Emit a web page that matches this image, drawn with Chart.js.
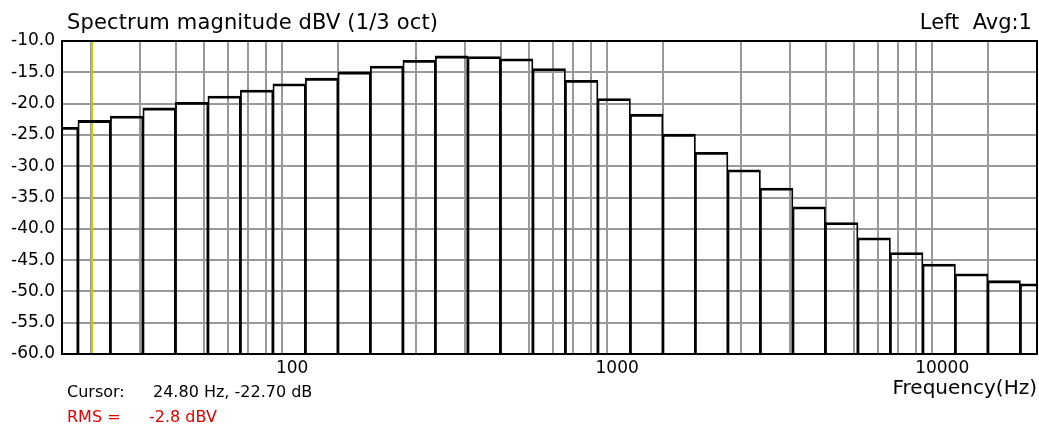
<!DOCTYPE html>
<html>
<head>
<meta charset="utf-8">
<title>Spectrum magnitude</title>
<script src="https://cdn.jsdelivr.net/npm/chart.js@4.4.1/dist/chart.umd.min.js"></script>
<style>
    html, body { margin: 0; padding: 0; background: #fff; }
    #wrap { position: relative; width: 1039px; height: 432px; font-family: 'DejaVu Sans', sans-serif; color: #000; }
    #wrap canvas { position: absolute; left: 0; top: 0; }
    .lbl { position: absolute; white-space: pre; }
    #title { left: 67px; top: 10px; font-size: 21px; line-height: 24px; letter-spacing: 0.15px; }
    #channel { right: 7px; top: 10px; font-size: 21px; line-height: 24px; }
    #cursor, #rms { left: 67px; font-size: 16px; line-height: 20px; }
    #cursor { top: 382px; }
    #rms { top: 407px; color: #e00000; }
    .val { position: absolute; left: 86px; }
</style>
</head>
<body>
<div id="wrap">
    <canvas id="spectrum" width="1039" height="432"></canvas>
    <div class="lbl" id="title">Spectrum magnitude dBV (1/3 oct)</div>
    <div class="lbl" id="channel">Left  Avg:1</div>
    <div class="lbl" id="cursor">Cursor:<span class="val">24.80 Hz, -22.70 dB</span></div>
    <div class="lbl" id="rms">RMS =<span class="val" style="left:82px">-2.8 dBV</span></div>
</div>
<script>
// 1/3 octave band centres (Hz) and the level read for each band (dBV)
const bandCenters = [19.95, 25.12, 31.62, 39.81, 50.12, 63.10, 79.43, 100, 125.9, 158.5,
    199.5, 251.2, 316.2, 398.1, 501.2, 631.0, 794.3, 1000, 1259, 1585,
    1995, 2512, 3162, 3981, 5012, 6310, 7943, 10000, 12589, 15849, 19953];
const bandLevels = [-23.8, -22.7, -22.0, -20.7, -19.8, -18.8, -17.85, -16.85, -15.95, -14.95,
    -14.0, -13.1, -12.4, -12.5, -12.85, -14.4, -16.3, -19.2, -21.7, -24.9,
    -27.8, -30.6, -33.5, -36.5, -39.0, -41.45, -43.8, -45.65, -47.2, -48.3, -48.8];

const gridFreqs = [20, 30, 40, 50, 60, 70, 80, 90, 100, 200, 300, 400, 500, 600, 700, 800, 900,
    1000, 2000, 3000, 4000, 5000, 6000, 7000, 8000, 9000, 10000, 20000];
const xTickLabels = ['100', '1000', '10000'];
const freqMin = 20;
const freqMax = 20000;
const dbMin = -60;
const dbMax = -10;
const dbStep = 5;
const cursorHz = 24.8;

const gridColor = '#999999';

const frameAndCursor = {
    id: 'frameAndCursor',
    beforeDatasetsDraw(chart) {
        const { ctx, chartArea: a, scales: { x } } = chart;
        const px = Math.round(x.getPixelForValue(cursorHz));
        ctx.save();
        ctx.strokeStyle = '#cccc00';
        ctx.lineWidth = 2;
        ctx.beginPath();
        ctx.moveTo(px, a.top);
        ctx.lineTo(px, a.bottom);
        ctx.stroke();
        ctx.restore();
    },
    afterDraw(chart) {
        const { ctx, chartArea: a } = chart;
        ctx.save();
        ctx.strokeStyle = '#000';
        ctx.lineWidth = 2;
        ctx.strokeRect(a.left, a.top, a.right - a.left, a.bottom - a.top);
        ctx.restore();
    }
};

Chart.defaults.font.family = "'DejaVu Sans', sans-serif";
Chart.defaults.color = '#000';

new Chart(document.getElementById('spectrum'), {
    type: 'bar',
    data: {
        datasets: [{
            data: bandCenters.map((f, i) => ({ x: f, y: bandLevels[i] })),
            xAxisID: 'xb',
            yAxisID: 'y',
            base: dbMin,
            backgroundColor: 'rgba(0,0,0,0)',
            borderColor: '#000',
            borderWidth: { top: 2, left: 1, right: 1, bottom: 0 },
            borderSkipped: 'start',
            barPercentage: 1,
            categoryPercentage: 1,
            inflateAmount: 0.4,
            clip: 0
        }]
    },
    options: {
        responsive: false,
        animation: false,
        devicePixelRatio: 1,
        layout: { padding: { left: 0, right: 0, top: 41, bottom: 0 } },
        plugins: {
            legend: { display: false },
            tooltip: { enabled: false }
        },
        scales: {
            x: {
                type: 'logarithmic',
                min: freqMin,
                max: freqMax,
                afterBuildTicks: s => { s.ticks = gridFreqs.map(v => ({ value: v })); },
                afterFit: s => { s.height = 78; s.paddingRight = 2; },
                border: { display: false },
                grid: { color: gridColor, lineWidth: 2, drawTicks: false },
                ticks: {
                    autoSkip: false,
                    maxRotation: 0,
                    padding: 4,
                    labelOffset: 3,
                    font: { size: 17 },
                    callback: v => xTickLabels.includes(String(v)) ? String(v) : ''
                },
                title: {
                    display: true,
                    text: 'Frequency(Hz)',
                    align: 'end',
                    font: { size: 20 },
                    padding: { top: 0, bottom: 31 }
                }
            },
            xb: {
                type: 'logarithmic',
                display: false,
                min: freqMin,
                max: freqMax,
                afterBuildTicks: s => { s.ticks = []; }
            },
            y: {
                min: dbMin,
                max: dbMax,
                afterFit: s => { s.width = 62; },
                border: { display: false },
                grid: { color: gridColor, lineWidth: 2, drawTicks: false },
                ticks: {
                    stepSize: dbStep,
                    padding: 7,
                    font: { size: 17 },
                    callback: v => v.toFixed(1)
                }
            }
        }
    },
    plugins: [frameAndCursor]
});
</script>
</body>
</html>
